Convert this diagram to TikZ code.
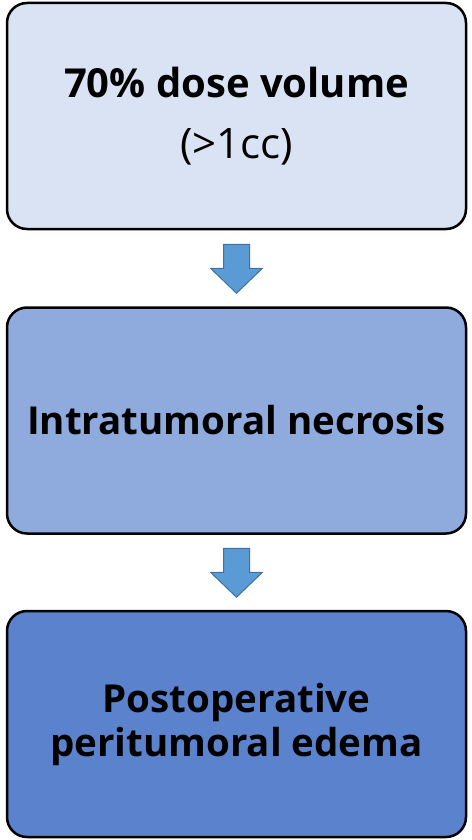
\documentclass[tikz,border=0pt]{standalone}
\usepackage{fontspec}
\setmainfont{Open Sans}
\usetikzlibrary{positioning,calc}
\definecolor{boxA}{HTML}{DAE3F3}
\definecolor{boxB}{HTML}{8FAADC}
\definecolor{boxC}{HTML}{5B82CD}
\definecolor{arrfill}{HTML}{5B9BD5}
\definecolor{arrline}{HTML}{41719C}

\begin{document}
\begin{tikzpicture}[x=1pt,y=-1pt,
  box/.style={draw,line width=2.5pt,rounded corners=20pt,minimum width=459pt,minimum height=226pt,align=center,font=\fontsize{38.5}{44}\selectfont\bfseries},
  blk/.style={fill=arrfill,draw=arrline,line width=1pt,line join=miter},
  node distance=76pt]
\useasboundingbox (0,0) rectangle (471,840);
\node[box,fill=boxA] (dose) at (236.5,116) {{\fontsize{40}{44}\selectfont 70\% dose volume}\\[17pt]{\mdseries\fontsize{42}{44}\selectfont (>1cc)}};
\node[box,fill=boxB,below=of dose] (necro) {Intratumoral necrosis};
\node[box,fill=boxC,below=75pt of necro] (edema) {Postoperative\\peritumoral edema};
% block arrows between the boxes
\foreach \a/\b in {dose/necro,necro/edema}
  \draw[blk] ($(\a.south)!.5!(\b.north)+(-13,-24)$) -- ++(26,0) -- ++(0,24) -- ++(13,0)
    -- ++(-26,25) -- ++(-26,-25) -- ++(13,0) -- cycle;
\end{tikzpicture}
\end{document}
